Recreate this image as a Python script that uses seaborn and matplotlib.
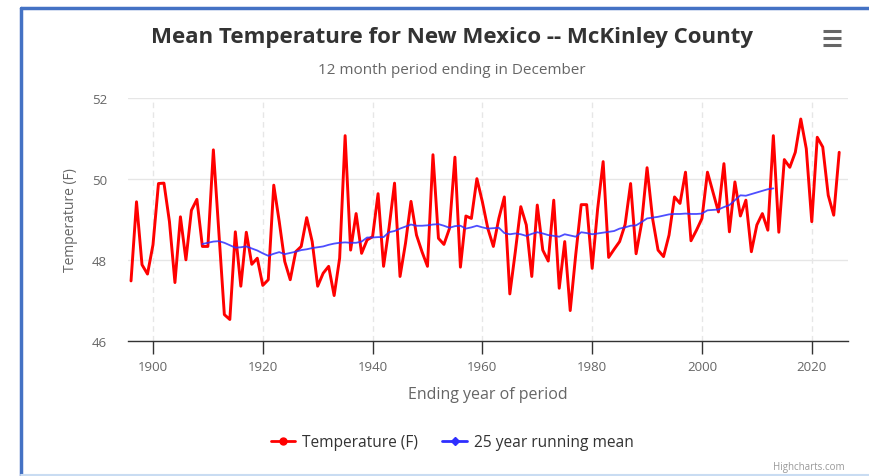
import numpy as np
import pandas as pd
import matplotlib
matplotlib.use('Agg')
import matplotlib.pyplot as plt
from matplotlib.lines import Line2D
import seaborn as sns

years = list(range(1896, 2026))
temperature = [
    47.48, 49.43, 47.88, 47.65, 48.37, 49.88, 49.89, 48.94, 47.44, 49.06,
    48.00, 49.22, 49.49, 48.33, 48.33, 50.71, 48.69, 46.65, 46.53, 48.69,
    47.35, 48.68, 47.89, 48.04, 47.37, 47.51, 49.84, 48.94, 47.96, 47.51,
    48.20, 48.33, 49.04, 48.45, 47.35, 47.67, 47.84, 47.12, 48.04, 51.06,
    48.24, 49.14, 48.16, 48.49, 48.57, 49.63, 47.84, 48.79, 49.89, 47.59,
    48.41, 49.44, 48.61, 48.20, 47.84, 50.59, 48.53, 48.38, 48.77, 50.53,
    47.82, 49.08, 49.02, 50.00, 49.43, 48.77, 48.33, 49.02, 49.55, 47.16,
    48.20, 49.31, 48.86, 47.59, 49.35, 48.24, 47.97, 49.47, 47.30, 48.45,
    46.75, 48.12, 49.36, 49.36, 47.79, 49.26, 50.42, 48.06, 48.26, 48.45,
    48.87, 49.88, 48.15, 48.90, 50.27, 49.02, 48.24, 48.08, 48.61, 49.55,
    49.39, 50.16, 48.47, 48.73, 49.02, 50.16, 49.67, 49.18, 50.37, 48.69,
    49.92, 49.08, 49.47, 48.20, 48.86, 49.14, 48.73, 51.06, 48.68, 50.47,
    50.28, 50.65, 51.47, 50.74, 48.94, 51.02, 50.78, 49.59, 49.10, 50.65,
]

mean_years = list(range(1909, 2014))
running_mean = [
    48.39, 48.42, 48.45, 48.46, 48.42, 48.36, 48.30, 48.31, 48.33, 48.28,
    48.23, 48.16, 48.10, 48.15, 48.19, 48.14, 48.17, 48.20, 48.24, 48.26,
    48.29, 48.31, 48.33, 48.37, 48.40, 48.42, 48.43, 48.42, 48.42, 48.45,
    48.55, 48.55, 48.56, 48.56, 48.68, 48.71, 48.77, 48.82, 48.87, 48.84,
    48.84, 48.85, 48.87, 48.88, 48.84, 48.79, 48.83, 48.84, 48.77, 48.80,
    48.84, 48.80, 48.77, 48.78, 48.79, 48.66, 48.63, 48.65, 48.63, 48.59,
    48.64, 48.68, 48.65, 48.61, 48.59, 48.57, 48.63, 48.60, 48.57, 48.68,
    48.66, 48.63, 48.65, 48.67, 48.69, 48.71, 48.77, 48.80, 48.84, 48.85,
    48.93, 49.02, 49.04, 49.06, 49.09, 49.12, 49.13, 49.13, 49.14, 49.13,
    49.13, 49.14, 49.22, 49.23, 49.24, 49.30, 49.35, 49.47, 49.59, 49.58,
    49.62, 49.66, 49.70, 49.74, 49.76,
]

x_ticks = [1900, 1920, 1940, 1960, 1980, 2000, 2020]
y_ticks = [46, 48, 50, 52]

RED = '#ff0000'
BLUE = '#2f2fff'
FRAME = '#4472c4'
TXT = '#333333'
GREY = '#666666'

sns.set_style('white')
plt.rcParams['font.family'] = ['Open Sans', 'DejaVu Sans']

temp_df = pd.DataFrame({'year': years, 'temp': temperature})
mean_df = pd.DataFrame({'year': mean_years, 'mean': running_mean})

W, H = 869, 477
fig = plt.figure(figsize=(W / 100, H / 100), dpi=100)
fig.patch.set_facecolor('white')
ax = fig.add_axes([128 / W, 1 - 342 / H, 720 / W, (342 - 98.5) / H])

sns.lineplot(data=temp_df, x='year', y='temp', ax=ax, color=RED, lw=2.1)
sns.lineplot(data=mean_df, x='year', y='mean', ax=ax, color=BLUE, lw=1.3, alpha=0.85)

ax.set_xlim(1895.45, 2026.6)
ax.set_ylim(46, 52)
ax.set_xticks(x_ticks)
ax.set_yticks(y_ticks)
ax.set_xticklabels([str(t) for t in x_ticks], color=GREY, fontsize=9.5)
ax.set_yticklabels([str(t) for t in y_ticks], color=GREY, fontsize=9.5)
ax.tick_params(axis='x', length=9, width=1, color='#333333', direction='out', pad=5, bottom=True)
ax.tick_params(axis='y', length=0, pad=15)

ax.grid(axis='y', color='#e6e6e6', lw=1)
ax.grid(axis='x', color='#e6e6e6', lw=1, ls=(0, (4, 3)))
for s in ['top', 'right', 'left']:
    ax.spines[s].set_visible(False)
ax.spines['bottom'].set_color('#333333')
ax.spines['bottom'].set_linewidth(1)

ax.set_xlabel('Ending year of period', color=GREY, fontsize=11.5, labelpad=9)
ax.set_ylabel('Temperature (F)', color=GREY, fontsize=10, labelpad=10)

fig.text(452 / W, 1 - 38 / H, 'Mean Temperature for New Mexico -- McKinley County',
         ha='center', va='center', fontsize=16, fontweight='bold', color=TXT)
fig.text(452 / W, 1 - 71 / H, '12 month period ending in December',
         ha='center', va='center', fontsize=11, color=GREY)

# legend
handles = [
    Line2D([], [], color=RED, lw=2, marker='o', markersize=5),
    Line2D([], [], color=BLUE, lw=2, marker='D', markersize=4),
]
fig.legend(handles, ['Temperature (F)', '25 year running mean'],
           loc='center', bbox_to_anchor=(452 / W, 1 - 443 / H), ncol=2,
           frameon=False, fontsize=11.2, handlelength=1.6, columnspacing=1.6,
           handletextpad=0.4, labelcolor=TXT)

fig.text(845 / W, 1 - 468 / H, 'Highcharts.com', ha='right', va='center',
         fontsize=7, color='#999999')

# menu icon
for dy in (32, 39, 46):
    fig.add_artist(Line2D([823 / W, 841 / W], [1 - dy / H, 1 - dy / H],
                          color='#666666', lw=2.2, solid_capstyle='butt'))

# blue frame
fig.add_artist(Line2D([21 / W, 21 / W], [0, 1 - 9 / H], color=FRAME, lw=2.5))
fig.add_artist(Line2D([21 / W, 1], [1 - 9 / H, 1 - 9 / H], color=FRAME, lw=2.5))
fig.add_artist(Line2D([21 / W, 1], [1.5 / H, 1.5 / H], color='#c9dcf2', lw=1.5))

fig.savefig('out.png', dpi=100, facecolor='white')
